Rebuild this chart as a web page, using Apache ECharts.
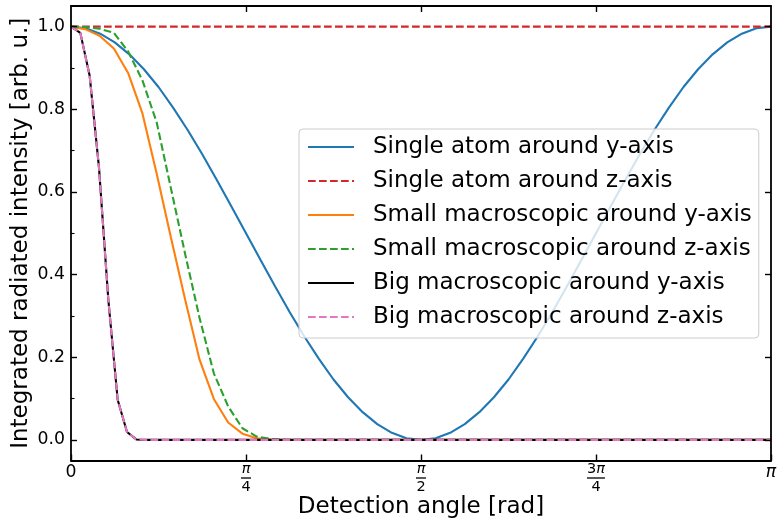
<!DOCTYPE html>
<html>
<head>
<meta charset="utf-8">
<script src="https://cdn.jsdelivr.net/npm/echarts@6/dist/echarts.min.js"></script>
<style>html,body{margin:0;padding:0;background:#fff;}#c{width:777px;height:521px;}</style>
</head>
<body>
<div id="c"></div>
<script>
// Angles are in degrees (0..180 == 0..π)
const singleAngles = [0,3.75,7.5,11.25,15,18.75,22.5,26.25,30,33.75,37.5,41.25,45,48.75,52.5,56.25,60,63.75,67.5,71.25,75,78.75,82.5,86.25,90,93.75,97.5,101.25,105,108.75,112.5,116.25,120,123.75,127.5,131.25,135,138.75,142.5,146.25,150,153.75,157.5,161.25,165,168.75,172.5,176.25,180];
const singleAroundY = [1,0.996,0.983,0.962,0.933,0.897,0.854,0.804,0.75,0.691,0.629,0.565,0.5,0.435,0.371,0.309,0.25,0.196,0.146,0.103,0.067,0.038,0.017,0.004,0,0.004,0.017,0.038,0.067,0.103,0.146,0.196,0.25,0.309,0.371,0.435,0.5,0.565,0.629,0.691,0.75,0.804,0.854,0.897,0.933,0.962,0.983,0.996,1];
const singleZAngles = [0, 180];
const singleAroundZ = [1.0, 1.0];
const smallAngles = [0,3.67,7.35,11.02,14.69,18.37,22.04,25.71,29.39,33.06,36.73,40.41,44.08,47.76,51.43,55.10,58.78,180];
const smallAroundY = [1.0,0.994,0.978,0.947,0.888,0.79,0.644,0.489,0.338,0.194,0.099,0.042,0.015,0.004,0.001,0,0,0];
const smallAroundZ = [1.0,0.999,0.995,0.985,0.94,0.87,0.768,0.608,0.448,0.295,0.161,0.081,0.028,0.008,0.002,0.0005,0,0];
const bigAngles = [0,2.4,4.8,7.2,9.6,12,14.4,16.8,19.2,180];
const bigAroundY = [1,0.985,0.881,0.659,0.339,0.097,0.019,0.001,0,0];
const bigAroundZ = [1,0.985,0.881,0.659,0.339,0.097,0.019,0.001,0,0];
const xTickValues = [0,45,90,135,180];
const xTickLabels = ['0','π/4','π/2','3π/4','π'];
const yTickValues = [0,0.2,0.4,0.6,0.8,1.0];
const yMinorValues = [0.1,0.3,0.5,0.7,0.9];
const seriesNames = ['Single atom around y-axis','Single atom around z-axis','Small macroscopic around y-axis','Small macroscopic around z-axis','Big macroscopic around y-axis','Big macroscopic around z-axis'];

const FONT = 'DejaVu Sans';
const pair = (xs, ys) => xs.map((x, i) => [x, ys[i]]);
const DASH = [7.7, 3.3];

function xLabel(v) {
  const i = xTickValues.indexOf(v);
  const t = xTickLabels[i];
  if (t === '0') return '{z|0}';
  if (t === 'π') return '{p|π}';
  const parts = t.split('/');
  const num = parts[0];
  if (num === 'π') return '{ni|π}\n{bar1| }\n{d|' + parts[1] + '}';
  return '{n|' + num.replace('π','') + '}{ni|π}\n{bar3| }\n{d|' + parts[1] + '}';
}

const chart = echarts.init(document.getElementById('c'), null, {renderer: 'canvas'});
const axisLine = {show: true, onZero: false, lineStyle: {color: '#000', width: 1.8}};
const option = {
  animation: false,
  backgroundColor: '#fff',
  textStyle: {fontFamily: FONT},
  grid: {left: 71, right: 6, top: 6, bottom: 60.5, containLabel: false, outerBoundsMode: 'none'},
  xAxis: [{
    type: 'value', min: 0, max: 180, position: 'bottom', z: 5,
    axisLine: axisLine,
    splitLine: {show: false},
    axisTick: {show: true, inside: true, length: 6, customValues: xTickValues, lineStyle: {color: '#000', width: 1.4}},
    axisLabel: {show: true, customValues: xTickValues, margin: 2, formatter: xLabel, color: '#000',
      rich: {
        z: {fontSize: 17.3, fontFamily: FONT, color: '#000', lineHeight: 20},
        p: {fontSize: 17.3, fontFamily: FONT, fontStyle: 'italic', color: '#000', lineHeight: 20},
        n: {fontSize: 14.5, fontFamily: FONT, color: '#000', lineHeight: 13},
        ni: {fontSize: 14.5, fontFamily: FONT, fontStyle: 'italic', color: '#000', lineHeight: 13},
        bar1: {width: 10, height: 1.3, backgroundColor: '#000', lineHeight: 5, fontSize: 1},
        bar3: {width: 18, height: 1.3, backgroundColor: '#000', lineHeight: 5, fontSize: 1},
        d: {fontSize: 14.5, fontFamily: FONT, color: '#000', lineHeight: 13}
      }},
    name: 'Detection angle [rad]', nameLocation: 'middle', nameGap: 35, nameMoveOverlap: false,
    nameTextStyle: {fontSize: 23, fontFamily: FONT, color: '#000'}
  }, {
    type: 'value', min: 0, max: 180, position: 'top', z: 5,
    axisLine: axisLine,
    splitLine: {show: false},
    axisTick: {show: true, inside: true, length: 6, customValues: [45, 90, 135], lineStyle: {color: '#000', width: 1.4}},
    axisLabel: {show: false}
  }],
  yAxis: [{
    type: 'value', min: -0.05, max: 1.05, position: 'left', z: 5,
    axisLine: axisLine,
    splitLine: {show: false},
    axisTick: {show: true, inside: true, length: 6, customValues: yTickValues, lineStyle: {color: '#000', width: 1.4}},
    axisLabel: {show: true, customValues: yTickValues, margin: 6, fontSize: 17.3, fontFamily: FONT, color: '#000',
      formatter: v => v.toFixed(1)},
    name: 'Integrated radiated intensity [arb. u.]', nameLocation: 'middle', nameGap: 38, nameMoveOverlap: false,
    nameTextStyle: {fontSize: 23, fontFamily: FONT, color: '#000'}
  }, {
    type: 'value', min: -0.05, max: 1.05, position: 'left', z: 5,
    axisLine: {show: false, onZero: false},
    splitLine: {show: false},
    axisTick: {show: true, inside: true, length: 3.5, customValues: yMinorValues, lineStyle: {color: '#000', width: 1.1}},
    axisLabel: {show: false}
  }, {
    type: 'value', min: -0.05, max: 1.05, position: 'right', z: 5,
    axisLine: axisLine,
    splitLine: {show: false},
    axisTick: {show: true, inside: true, length: 6, customValues: yTickValues, lineStyle: {color: '#000', width: 1.4}},
    axisLabel: {show: false}
  }],
  legend: {
    orient: 'vertical', left: 299, top: 129,
    padding: [6.5, 7, 9.5, 8],
    itemWidth: 46, itemHeight: 14, itemGap: 11,
    itemStyle: {opacity: 0},
    backgroundColor: 'rgba(255,255,255,0.8)', borderColor: '#cccccc', borderWidth: 1, borderRadius: 4,
    textStyle: {fontSize: 23, fontFamily: FONT, color: '#000', lineHeight: 23, padding: [0, 0, 0, 14]},
    data: seriesNames
  },
  series: [
    {name: seriesNames[0], type: 'line', data: pair(singleAngles, singleAroundY), symbol: 'none', lineStyle: {color: '#1f77b4', width: 2.1}, itemStyle: {color: '#1f77b4'}},
    {name: seriesNames[1], type: 'line', data: pair(singleZAngles, singleAroundZ), symbol: 'none', lineStyle: {color: '#d62728', width: 2.1, type: DASH}, itemStyle: {color: '#d62728'}},
    {name: seriesNames[2], type: 'line', data: pair(smallAngles, smallAroundY), symbol: 'none', lineStyle: {color: '#ff7f0e', width: 2.1}, itemStyle: {color: '#ff7f0e'}},
    {name: seriesNames[3], type: 'line', data: pair(smallAngles, smallAroundZ), symbol: 'none', lineStyle: {color: '#2ca02c', width: 2.1, type: DASH}, itemStyle: {color: '#2ca02c'}},
    {name: seriesNames[4], type: 'line', data: pair(bigAngles, bigAroundY), symbol: 'none', lineStyle: {color: '#000000', width: 2.1}, itemStyle: {color: '#000000'}},
    {name: seriesNames[5], type: 'line', data: pair(bigAngles, bigAroundZ), symbol: 'none', lineStyle: {color: '#e377c2', width: 2.1, type: DASH}, itemStyle: {color: '#e377c2'}}
  ]
};
chart.setOption(option);
</script>
</body>
</html>
